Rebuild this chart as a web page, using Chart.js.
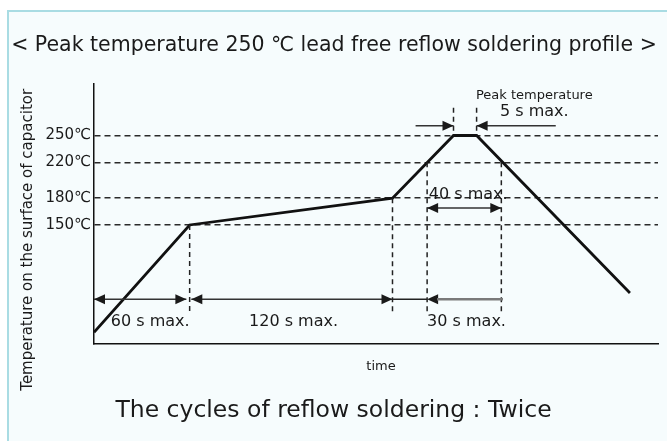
<!DOCTYPE html>
<html>
<head>
<meta charset="utf-8">
<script src="https://cdn.jsdelivr.net/npm/chart.js@4.4.0/dist/chart.umd.min.js"></script>
<style>
  html, body { margin: 0; padding: 0; overflow: hidden; background: #fff; }
  .panel {
    position: absolute; left: 7px; top: 10px; width: 700px; height: 460px;
    background: #f6fcfd;
    border-top: 2px solid #a9dce3;
    border-left: 2px solid #a9dce3;
  }
  #profile { position: absolute; left: 0; top: 0; }
</style>
</head>
<body>
<div class="panel"></div>
<canvas id="profile" width="667" height="441"></canvas>
<script>
/*
 * reflow profile data (time in s, temperature in degC)
 */
const times = [0, 58, 181, 218, 232, 325];
const temps = [30, 150, 180, 250, 250, 74];
const tempTicks = [150, 180, 220, 250];

// dashed drop lines from the curve down to the arrow row
const dropTimes = [58, 181, 202, 247];
const dropTemps = [150, 180, 220, 220];
const dropBottom = 53;

// peak hold markers
const peakTimes = [218, 232];
const peakTop = 281;

// duration labels
const phaseLabels = ['60 s max.', '120 s max.', '30 s max.', '40 s max.'];

const FONT = "'DejaVu Sans', Verdana, sans-serif";
const INK = '#1a1a1a';

function arrowHead(ctx, tipX, tipY, dir) {
    ctx.beginPath();
    ctx.moveTo(tipX, tipY);
    ctx.lineTo(tipX - dir * 11, tipY - 5);
    ctx.lineTo(tipX - dir * 11, tipY + 5);
    ctx.closePath();
    ctx.fill();
}

function hLine(ctx, x1, x2, yy, color, width) {
    ctx.strokeStyle = color;
    ctx.lineWidth = width;
    ctx.beginPath();
    ctx.moveTo(x1, yy);
    ctx.lineTo(x2, yy);
    ctx.stroke();
}

const annotations = {
    id: 'annotations',
    afterDraw(chart) {
        const { ctx, chartArea, scales: { x, y } } = chart;
        const px = v => x.getPixelForValue(v);
        const py = v => y.getPixelForValue(v);
        ctx.save();

        // dashed verticals
        ctx.setLineDash([5, 4]);
        ctx.strokeStyle = '#222';
        ctx.lineWidth = 1.5;
        dropTimes.forEach((t, i) => {
            ctx.beginPath();
            ctx.moveTo(px(t), py(dropTemps[i]));
            ctx.lineTo(px(t), py(dropBottom));
            ctx.stroke();
        });
        peakTimes.forEach(t => {
            ctx.beginPath();
            ctx.moveTo(px(t), py(peakTop));
            ctx.lineTo(px(t), py(250));
            ctx.stroke();
        });
        ctx.setLineDash([]);
        ctx.fillStyle = INK;

        // bottom row of arrows
        const rowY = py(67);
        hLine(ctx, px(0), px(56), rowY, '#333', 1.5);
        arrowHead(ctx, px(0), rowY, -1);
        arrowHead(ctx, px(56), rowY, 1);
        hLine(ctx, px(59), px(181), rowY, '#333', 1.5);
        arrowHead(ctx, px(59), rowY, -1);
        arrowHead(ctx, px(181), rowY, 1);
        hLine(ctx, px(181), px(202), rowY, '#222', 1.5);
        arrowHead(ctx, px(202), rowY, -1);
        hLine(ctx, px(208), px(248), rowY, '#7a7a7a', 2.5);

        // 40 s arrow
        const midY = py(169);
        hLine(ctx, px(202), px(247), midY, '#333', 1.5);
        arrowHead(ctx, px(202), midY, -1);
        arrowHead(ctx, px(247), midY, 1);

        // 5 s peak arrows
        const topY = py(261);
        hLine(ctx, px(195), px(218), topY, '#333', 1.5);
        arrowHead(ctx, px(218), topY, 1);
        hLine(ctx, px(232), px(280), topY, '#333', 1.5);
        arrowHead(ctx, px(232), topY, -1);

        // duration labels
        ctx.font = '16px ' + FONT;
        ctx.textBaseline = 'middle';
        ctx.textAlign = 'right';
        ctx.fillText(phaseLabels[0], px(58), py(42));
        ctx.textAlign = 'center';
        ctx.fillText(phaseLabels[1], px(121), py(42));
        ctx.textAlign = 'left';
        ctx.fillText(phaseLabels[2], px(202), py(42));
        ctx.fillText(phaseLabels[3], px(203), py(184));

        ctx.textAlign = 'center';
        ctx.font = '13px ' + FONT;
        ctx.fillText('Peak temperature', px(267), py(295));
        ctx.font = '16px ' + FONT;
        ctx.fillText('5 s max.', px(267), py(276));

        // axis captions
        ctx.font = '13px ' + FONT;
        ctx.fillText('time', (chartArea.left + chartArea.right) / 2 + 5, chartArea.bottom + 23);

        ctx.font = '23.5px ' + FONT;
        ctx.fillText('The cycles of reflow soldering : Twice', chart.width / 2, chartArea.bottom + 67);

        ctx.translate(chartArea.left - 66, (chartArea.top + chartArea.bottom) / 2 + 26);
        ctx.rotate(-Math.PI / 2);
        ctx.font = '15px ' + FONT;
        ctx.fillText('Temperature on the surface of capacitor', 0, 0);
        ctx.restore();
    }
};

const ctx = document.getElementById('profile').getContext('2d');

const profileChart = new Chart(ctx, {
    type: 'line',
    data: {
        datasets: [{
            data: times.map((t, i) => ({ x: t, y: temps[i] })),
            borderColor: '#111',
            borderWidth: 2.8,
            pointRadius: 0,
            tension: 0,
            fill: false
        }]
    },
    options: {
        responsive: false,
        animation: false,
        layout: { padding: { left: 10, right: 9, top: 0, bottom: 97 } },
        plugins: {
            legend: { display: false },
            tooltip: { enabled: false },
            title: {
                display: true,
                text: '< Peak temperature 250 \u2103 lead free reflow soldering profile >',
                color: INK,
                font: { family: FONT, size: 20.5, weight: 'normal' },
                padding: { top: 33, bottom: 26 }
            }
        },
        scales: {
            x: {
                type: 'linear',
                min: 0,
                max: 342,
                ticks: { display: false },
                grid: { display: false, drawTicks: false },
                border: { display: true, color: '#111', width: 1.5 },
                afterFit: s => { s.height = 0; }
            },
            y: {
                min: 17,
                max: 308,
                afterBuildTicks: s => { s.ticks = tempTicks.map(v => ({ value: v })); },
                ticks: {
                    callback: v => v + '\u2103',
                    color: INK,
                    font: { family: FONT, size: 15 },
                    padding: 3
                },
                grid: { color: '#2a2a2a', lineWidth: 1.5, drawTicks: false },
                border: { display: true, color: '#111', width: 1.5, dash: [6, 4] },
                afterFit: s => { s.width = 84; }
            }
        }
    },
    plugins: [annotations]
});
</script>
</body>
</html>
